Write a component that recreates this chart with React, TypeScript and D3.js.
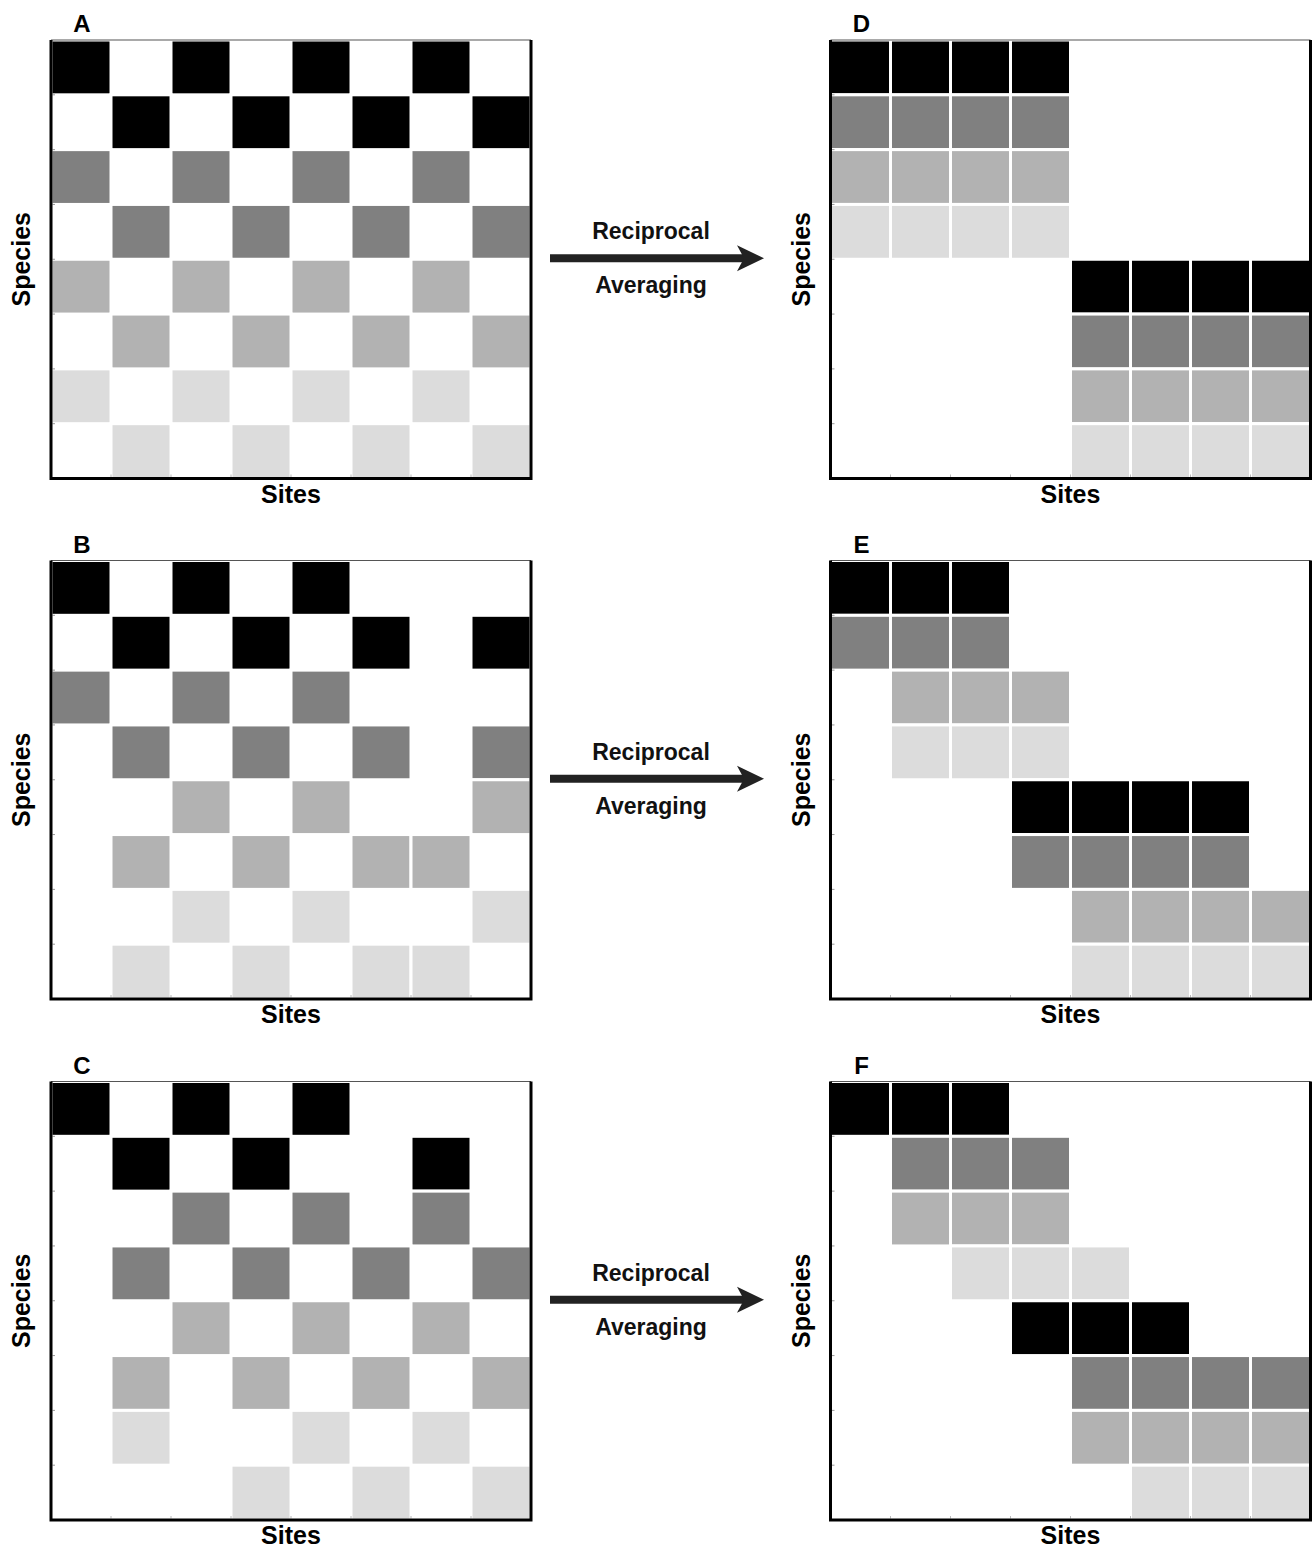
import React from "react";
import * as d3 from "d3";

// Shade levels: 0 black, 1 dark gray, 2 mid gray, 3 light gray
const shadeColors = ["#000000", "#808080", "#b2b2b2", "#dcdcdc"];
const sites = ["1", "2", "3", "4", "5", "6", "7", "8"];
const species = ["1", "2", "3", "4", "5", "6", "7", "8"];

const rowShadeRaw = [0, 0, 1, 1, 2, 2, 3, 3];
const rowShadeOrdered = [0, 1, 2, 3, 0, 1, 2, 3];

// occupied site indices per species row
const panelA = [[0, 2, 4, 6], [1, 3, 5, 7], [0, 2, 4, 6], [1, 3, 5, 7], [0, 2, 4, 6], [1, 3, 5, 7], [0, 2, 4, 6], [1, 3, 5, 7]];
const panelB = [[0, 2, 4], [1, 3, 5, 7], [0, 2, 4], [1, 3, 5, 7], [2, 4, 7], [1, 3, 5, 6], [2, 4, 7], [1, 3, 5, 6]];
const panelC = [[0, 2, 4], [1, 3, 6], [2, 4, 6], [1, 3, 5, 7], [2, 4, 6], [1, 3, 5, 7], [1, 4, 6], [3, 5, 7]];
const panelD = [[0, 1, 2, 3], [0, 1, 2, 3], [0, 1, 2, 3], [0, 1, 2, 3], [4, 5, 6, 7], [4, 5, 6, 7], [4, 5, 6, 7], [4, 5, 6, 7]];
const panelE = [[0, 1, 2], [0, 1, 2], [1, 2, 3], [1, 2, 3], [3, 4, 5, 6], [3, 4, 5, 6], [4, 5, 6, 7], [4, 5, 6, 7]];
const panelF = [[0, 1, 2], [1, 2, 3], [1, 2, 3], [2, 3, 4], [3, 4, 5], [4, 5, 6, 7], [4, 5, 6, 7], [5, 6, 7]];

const panelLabels = ["A", "B", "C", "D", "E", "F"];
const arrowTop = "Reciprocal";
const arrowBottom = "Averaging";
const xLabel = "Sites";
const yLabel = "Species";

const FONT = "'Liberation Sans', Arial, Helvetica, sans-serif";

const W = 480;
const H = 438.5;
const leftX = 51;
const rightX = 830.5;
const tops = [40, 560.5, 1081.5];

function Panel({ x0, y0, rows, shades, label }) {
  const xs = d3.scaleBand().domain(sites).range([0, W]).padding(0);
  const ys = d3.scaleBand().domain(species).range([0, H]).padding(0);
  const cells = [];
  rows.forEach((cols, r) => {
    cols.forEach((c) => {
      cells.push({ r, c, fill: shadeColors[shades[r]] });
    });
  });
  const ticksY = species.slice(1).map((s) => ys(s));
  const ticksX = sites.slice(1).map((s) => xs(s));
  return (
    <g transform={`translate(${x0},${y0})`}>
      {cells.map((d, i) => (
        <rect
          key={i}
          x={xs(sites[d.c])}
          y={ys(species[d.r])}
          width={xs.bandwidth()}
          height={ys.bandwidth()}
          fill={d.fill}
          stroke="#ffffff"
          strokeWidth={3}
        />
      ))}
      {ticksY.map((t, i) => (
        <line key={"ty" + i} x1={1.5} x2={4} y1={t} y2={t} stroke="#999" strokeWidth={1} />
      ))}
      {ticksX.map((t, i) => (
        <line key={"tx" + i} x1={t} x2={t} y1={H - 1.5} y2={H - 4} stroke="#bbb" strokeWidth={1} />
      ))}
      <line x1={0} x2={W} y1={0} y2={0} stroke="#555" strokeWidth={1.2} />
      <path d={`M0,0 L0,${H} L${W},${H} L${W},0`} fill="none" stroke="#000" strokeWidth={3} />
      <text x={31} y={-8} textAnchor="middle" fontFamily={FONT} fontWeight="bold" fontSize={24} fill="#000">
        {label}
      </text>
      <text x={W / 2} y={H + 24} textAnchor="middle" fontFamily={FONT} fontWeight="bold" fontSize={25} fill="#000">
        {xLabel}
      </text>
      <text
        transform={`translate(-21,${H / 2}) rotate(-90)`}
        textAnchor="middle"
        fontFamily={FONT}
        fontWeight="bold"
        fontSize={25}
        fill="#000"
      >
        {yLabel}
      </text>
    </g>
  );
}

function Arrow({ cy }) {
  const x1 = 550;
  const x2 = 764;
  return (
    <g>
      <text x={651} y={cy - 19} textAnchor="middle" fontFamily={FONT} fontWeight="bold" fontSize={23} fill="#111">
        {arrowTop}
      </text>
      <line x1={x1} x2={x2 - 20} y1={cy} y2={cy} stroke="#222" strokeWidth={8} />
      <path d={`M${x2 - 27},${cy - 13} L${x2},${cy} L${x2 - 27},${cy + 13} L${x2 - 20},${cy} Z`} fill="#222" />
      <text x={651} y={cy + 35} textAnchor="middle" fontFamily={FONT} fontWeight="bold" fontSize={23} fill="#111">
        {arrowBottom}
      </text>
    </g>
  );
}

export default function App() {
  const leftPanels = [panelA, panelB, panelC];
  const rightPanels = [panelD, panelE, panelF];
  return (
    <svg width={1313} height={1548} style={{ position: "absolute", left: 0, top: 0, background: "#fff" }}>
      <rect x={0} y={0} width={1313} height={1548} fill="#fff" />
      {leftPanels.map((p, i) => (
        <Panel key={"l" + i} x0={leftX} y0={tops[i]} rows={p} shades={rowShadeRaw} label={panelLabels[i]} />
      ))}
      {rightPanels.map((p, i) => (
        <Panel key={"r" + i} x0={rightX} y0={tops[i]} rows={p} shades={rowShadeOrdered} label={panelLabels[i + 3]} />
      ))}
      {tops.map((t, i) => (
        <Arrow key={"a" + i} cy={t + H / 2 - 1} />
      ))}
    </svg>
  );
}
